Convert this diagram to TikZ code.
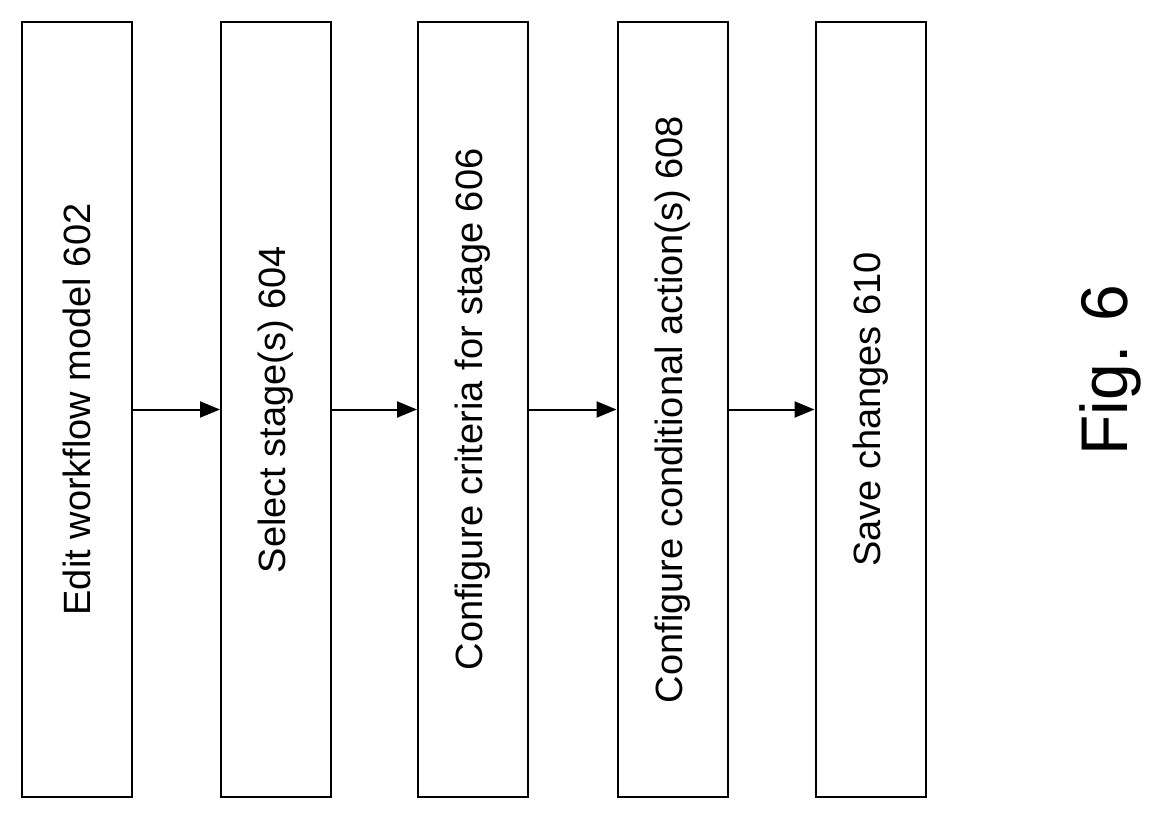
\documentclass[tikz,border=0pt]{standalone}
\usepackage{fontspec}
\setmainfont{Liberation Sans}
\usetikzlibrary{arrows.meta,positioning}

\begin{document}
\begin{tikzpicture}[
  x=1pt,y=-1pt,
  stagebox/.style={rectangle,draw,line width=2pt,rotate=90,minimum width=775pt,
    minimum height=110pt,inner sep=0pt,font=\fontsize{38}{40}\selectfont},
  flow/.style={-{Triangle[length=20pt,width=16pt]},line width=2pt}]
  \useasboundingbox (0,0) rectangle (1171,819);

  \node[stagebox] (edit) at (77,409.5) {Edit workflow model 602};
  \node[stagebox] (select) at (276,409.5) {Select stage(s) 604};
  \node[stagebox] (criteria) at (473,409.5) {Configure criteria for stage 606};
  \node[stagebox] (action) at (672.5,409.5) {Configure conditional action(s) 608};
  \node[stagebox] (save) at (870.5,409.5) {Save changes 610};

  \draw[flow] (edit.south) -- (select.north);
  \draw[flow] (select.south) -- (criteria.north);
  \draw[flow] (criteria.south) -- (action.north);
  \draw[flow] (action.south) -- (save.north);

  \node[rotate=90,font=\fontsize{66}{70}\selectfont] (fig) at (1110,370) {Fig. 6};
\end{tikzpicture}
\end{document}
